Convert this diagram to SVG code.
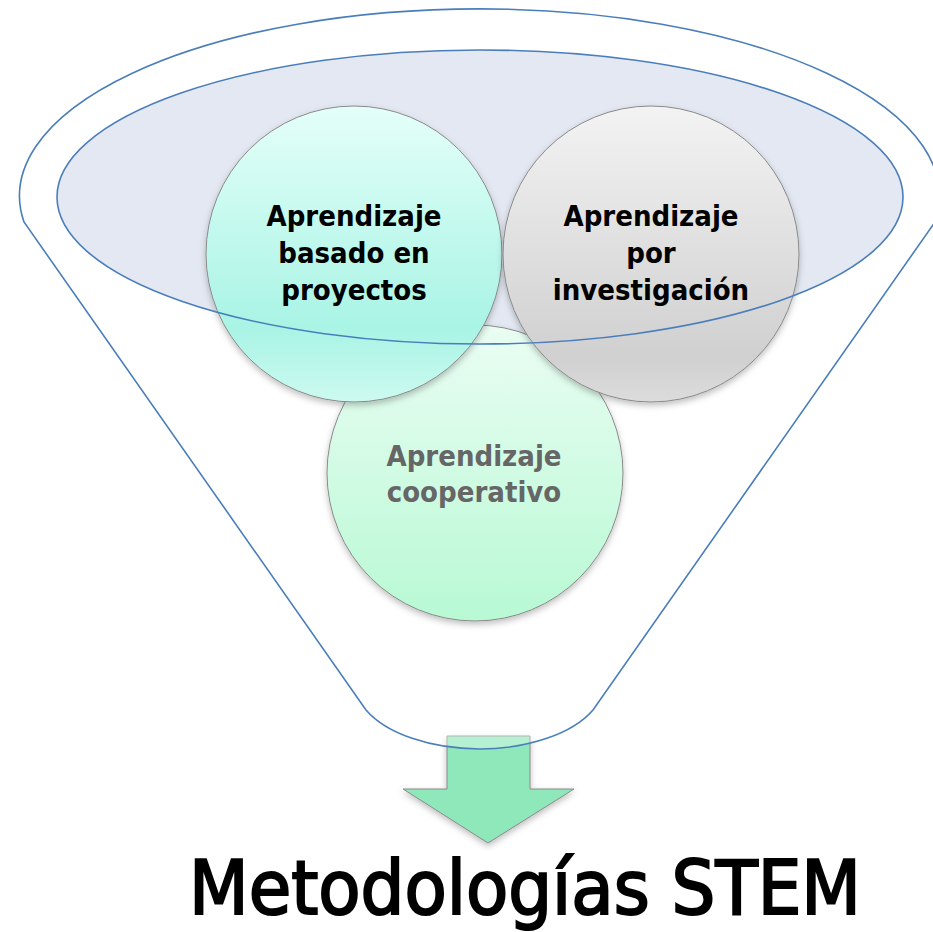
<svg xmlns="http://www.w3.org/2000/svg" width="933" height="932" viewBox="0 0 933 932">
<style>
.node-text{font-family:'DejaVu Sans Condensed','DejaVu Sans',sans-serif;font-stretch:condensed;font-weight:bold;font-size:29px;text-anchor:middle;fill:#000}
.circ{stroke:#8a8a8a;stroke-width:1}
.blue{fill:none;stroke:#4A7EBB;stroke-width:1.6}
</style>
<defs>
<linearGradient id="gCyan" x1="0" y1="0" x2="0" y2="1">
<stop offset="0" stop-color="#E4FFF9"/>
<stop offset="0.75" stop-color="#A9F4E5"/>
<stop offset="1" stop-color="#CDFAF0"/>
</linearGradient>
<linearGradient id="gGray" x1="0" y1="0" x2="0" y2="1">
<stop offset="0" stop-color="#F3F3F3"/>
<stop offset="0.85" stop-color="#D0D0D0"/>
<stop offset="1" stop-color="#DCDCDC"/>
</linearGradient>
<linearGradient id="gGreen" x1="0" y1="0" x2="0" y2="1">
<stop offset="0" stop-color="#EAFDF3"/>
<stop offset="1" stop-color="#B8F9D4"/>
</linearGradient>
<filter id="sh" x="-10%" y="-10%" width="120%" height="125%">
<feDropShadow dx="0" dy="3" stdDeviation="3" flood-color="#000" flood-opacity="0.25"/>
</filter>
</defs>

<g id="arrow">
<path d="M447,736 L530,736 L530,789 L574,789 L488,843 L403,789 L447,789 Z" fill="#8EE8BA" stroke="#8a8a8a" stroke-width="1" filter="url(#sh)"/>
</g>

<g id="funnel">
<path d="M24,222 A460,187 0 1 1 935,222 L593,710 A125,67 0 0 1 366,710 Z" fill="#ffffff" fill-opacity="0.35" stroke="#4A7EBB" stroke-width="1.6"/>
</g>

<g id="inner-ellipse">
<ellipse cx="480" cy="197" rx="423" ry="147" fill="#E3E8F2"/>
</g>

<g id="node-cooperativo">
<circle class="circ" cx="475" cy="473" r="148" fill="url(#gGreen)" filter="url(#sh)"/>
<text class="node-text" style="fill:#666666" x="474" y="466">Aprendizaje</text>
<text class="node-text" style="fill:#666666" x="474" y="502">cooperativo</text>
</g>

<g id="node-proyectos">
<circle class="circ" cx="354" cy="254" r="148" fill="url(#gCyan)" filter="url(#sh)"/>
<text class="node-text" x="354" y="226">Aprendizaje</text>
<text class="node-text" x="354" y="263">basado en</text>
<text class="node-text" x="354" y="300">proyectos</text>
</g>

<g id="node-investigacion">
<circle class="circ" cx="651" cy="254" r="148" fill="url(#gGray)" filter="url(#sh)"/>
<text class="node-text" x="651" y="226">Aprendizaje</text>
<text class="node-text" x="651" y="263">por</text>
<text class="node-text" x="651" y="300">investigación</text>
</g>

<g id="inner-ellipse-outline">
<ellipse class="blue" cx="480" cy="197" rx="423" ry="147"/>
</g>

<g id="title">
<text x="525" y="914" font-family="'DejaVu Sans Condensed','DejaVu Sans',sans-serif" font-stretch="condensed" font-size="75" text-anchor="middle" textLength="672" lengthAdjust="spacingAndGlyphs" fill="#000" stroke="#000" stroke-width="2">Metodologías STEM</text>
</g>
</svg>
